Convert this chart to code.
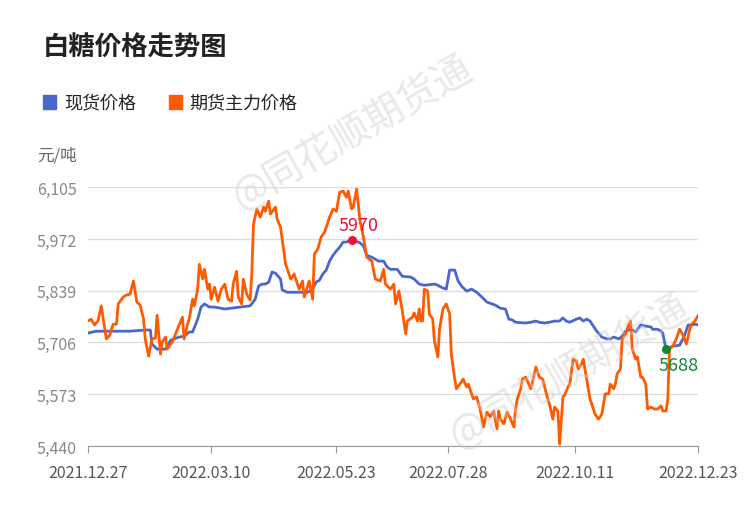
import numpy as np, pandas as pd, matplotlib
matplotlib.use("Agg")
import matplotlib.pyplot as plt, seaborn as sns
from matplotlib import font_manager as fm

cjk = [f for f in fm.findSystemFonts() if "CJK" in f or "cjk" in f.lower()]
for f in cjk:
    try:
        fm.fontManager.addfont(f)
    except Exception:
        pass
names = sorted({fm.FontProperties(fname=f).get_name() for f in cjk})
fam = [n for n in names if "SC" in n] or names or ["DejaVu Sans"]
plt.rcParams["font.family"] = "sans-serif"
plt.rcParams["font.sans-serif"] = fam + ["Noto Sans CJK SC", "DejaVu Sans"]
start = pd.Timestamp("2021-12-27")

fut_days = [0,2,4,6,8,9,11,13,15,17,18,21,23,25,27,29,31,33,34,36,38,40,41,43,44,46,47,49,50,53,56,57,59,60,62,63,65,66,68,69,71,72,73,75,77,79,81,83,85,86,88,89,91,92,94,96,97,98,100,102,104,105,107,108,111,112,114,117,120,122,123,125,127,128,131,133,134,136,138,140,143,145,147,149,151,153,154,156,157,159,161,163,165,168,170,173,175,176,179,181,182,184,186,188,189,192,193,195,196,197,198,199,201,202,204,205,207,208,210,212,214,215,217,218,220,222,224,225,228,230,232,234,236,238,240,242,243,244,246,248,250,252,253,254,256,257,259,262,264,265,267,269,272,273,275,276,278,279,281,282,284,285,287,289,290,292,293,295,297,300,302,304,306,308,309,311,312,313,315,316,318,320,321,322,324,325,327,328,330,331,333,335,337,339,340,342,343,344,346,348,350,352,354,356,357,359,361]
fut_vals = [5761,5766,5751,5761,5800,5771,5715,5725,5753,5753,5805,5823,5828,5830,5864,5810,5802,5766,5715,5671,5715,5717,5776,5676,5707,5720,5689,5702,5707,5740,5771,5715,5753,5766,5817,5800,5843,5907,5869,5894,5843,5856,5817,5848,5812,5843,5856,5817,5812,5856,5889,5823,5805,5869,5830,5815,5882,6010,6049,6028,6054,6043,6069,6036,6054,6023,6002,5907,5869,5882,5869,5843,5864,5823,5864,5817,5933,5946,5977,5989,6028,6049,6043,6092,6095,6079,6095,6049,6054,6100,6018,5977,5925,5915,5869,5864,5894,5856,5843,5856,5805,5838,5787,5728,5761,5771,5782,5761,5792,5761,5761,5843,5838,5779,5766,5710,5669,5740,5792,5805,5779,5676,5612,5587,5599,5612,5592,5599,5561,5566,5535,5489,5527,5515,5530,5484,5530,5509,5497,5527,5509,5489,5535,5561,5587,5612,5617,5587,5625,5643,5617,5612,5561,5548,5509,5540,5530,5445,5566,5571,5592,5599,5663,5658,5638,5651,5663,5612,5561,5522,5509,5522,5574,5574,5599,5587,5599,5625,5638,5715,5728,5753,5761,5689,5663,5669,5617,5617,5599,5535,5540,5535,5535,5543,5530,5530,5561,5689,5697,5715,5740,5725,5702,5740,5753,5761,5776]

spot_days = [0,5,9,14,25,34,37,38,41,46,49,51,54,57,60,62,65,67,69,72,75,81,90,96,99,101,103,105,107,109,111,114,115,118,130,133,135,137,139,141,143,145,147,149,151,153,156,161,163,165,168,172,175,177,179,183,186,191,193,196,199,205,207,209,212,214,217,219,221,224,227,230,233,236,239,241,244,247,249,251,253,259,262,265,267,270,273,276,279,281,283,285,289,291,293,295,297,299,301,304,307,309,311,314,316,318,320,321,324,327,330,333,334,337,339,340,342,346,347,350,353,355,357,359,361]
spot_vals = [5730,5735,5735,5735,5735,5738,5738,5702,5689,5689,5712,5715,5720,5722,5733,5733,5766,5797,5805,5797,5797,5792,5797,5800,5817,5851,5856,5856,5861,5887,5884,5869,5841,5835,5835,5843,5861,5866,5882,5892,5915,5930,5941,5951,5964,5964,5970,5962,5954,5930,5925,5915,5915,5900,5894,5894,5876,5874,5869,5856,5853,5856,5853,5848,5843,5892,5892,5864,5851,5838,5843,5835,5823,5810,5805,5802,5794,5792,5766,5764,5758,5756,5758,5761,5758,5756,5758,5761,5761,5769,5761,5758,5766,5769,5761,5766,5761,5748,5735,5720,5715,5715,5720,5715,5722,5735,5738,5740,5733,5751,5748,5746,5740,5740,5735,5730,5688,5697,5697,5699,5725,5751,5751,5753,5751]

yticks = [5440, 5573, 5706, 5839, 5972, 6105]
xtick_labels = ["2021.12.27", "2022.03.10", "2022.05.23", "2022.07.28", "2022.10.11", "2022.12.23"]

df = pd.concat([
    pd.DataFrame({"date": start + pd.to_timedelta(spot_days, "D"), "v": spot_vals, "s": "现货价格"}),
    pd.DataFrame({"date": start + pd.to_timedelta(fut_days, "D"), "v": fut_vals, "s": "期货主力价格"}),
])

fig = plt.figure(figsize=(7.5, 5.1), dpi=100)
ax = fig.add_axes([0.117, 0.1235, 0.814, 0.5075])
BLUE, ORANGE = "#4a68cc", "#ff5a00"
sns.lineplot(data=df, x="date", y="v", hue="s", palette={"现货价格": BLUE, "期货主力价格": ORANGE},
             linewidth=2, ax=ax, legend=False, estimator=None)
ax.set_ylim(5440, 6105)
ax.set_xlim(start, start + pd.Timedelta(days=361))
ax.set_yticks(yticks)
ax.set_yticklabels([f"{t:,}" for t in yticks], color="#888888", fontsize=11.5)
xt = [pd.Timestamp(s.replace(".", "-")) for s in xtick_labels]
ax.set_xticks(xt)
ax.set_xticklabels(xtick_labels, color="#555555", fontsize=11.5)
ax.tick_params(axis="y", length=0, pad=8)
ax.tick_params(axis="x", length=5, color="#999999", pad=8)
ax.grid(axis="y", color="#dddddd", linewidth=1)
ax.set_axisbelow(True)
for s in ["top", "right", "left"]:
    ax.spines[s].set_visible(False)
ax.spines["bottom"].set_color("#999999")
ax.set_xlabel(""); ax.set_ylabel("")

imax = int(np.argmax(spot_vals)); imin = spot_vals.index(5688)
dmax = start + pd.Timedelta(days=spot_days[imax]); dmin = start + pd.Timedelta(days=spot_days[imin])
ax.scatter([dmax], [spot_vals[imax]], color="#ee1133", s=30, zorder=5)
ax.annotate(str(spot_vals[imax]), (dmax, spot_vals[imax]), xytext=(5, 4), textcoords="offset points",
            ha="center", va="bottom", color="#ee1133", fontsize=13)
ax.scatter([dmin], [spot_vals[imin]], color="#118833", s=30, zorder=5)
ax.annotate(str(spot_vals[imin]), (dmin, spot_vals[imin]), xytext=(9, -5), textcoords="offset points",
            ha="center", va="top", color="#118833", fontsize=13)

fig.text(0.057, 0.905, "白糖价格走势图", fontsize=19, fontweight="bold", color="#222222", va="center")
fig.patches.append(plt.Rectangle((0.057, 0.785), 0.018, 0.027, color=BLUE, transform=fig.transFigure, figure=fig))
fig.text(0.085, 0.798, "现货价格", fontsize=13, color="#222222", va="center")
fig.patches.append(plt.Rectangle((0.225, 0.785), 0.018, 0.027, color=ORANGE, transform=fig.transFigure, figure=fig))
fig.text(0.253, 0.798, "期货主力价格", fontsize=13, color="#222222", va="center")
fig.text(0.05, 0.695, "元/吨", fontsize=12, color="#666666", va="center")

for (x, y) in [(0.47, 0.74), (0.76, 0.27)]:
    fig.text(x, y, "@同花顺期货通", fontsize=28, color="#cccccc", alpha=0.45, rotation=30,
             ha="center", va="center")

fig.savefig("out.png", dpi=100)
